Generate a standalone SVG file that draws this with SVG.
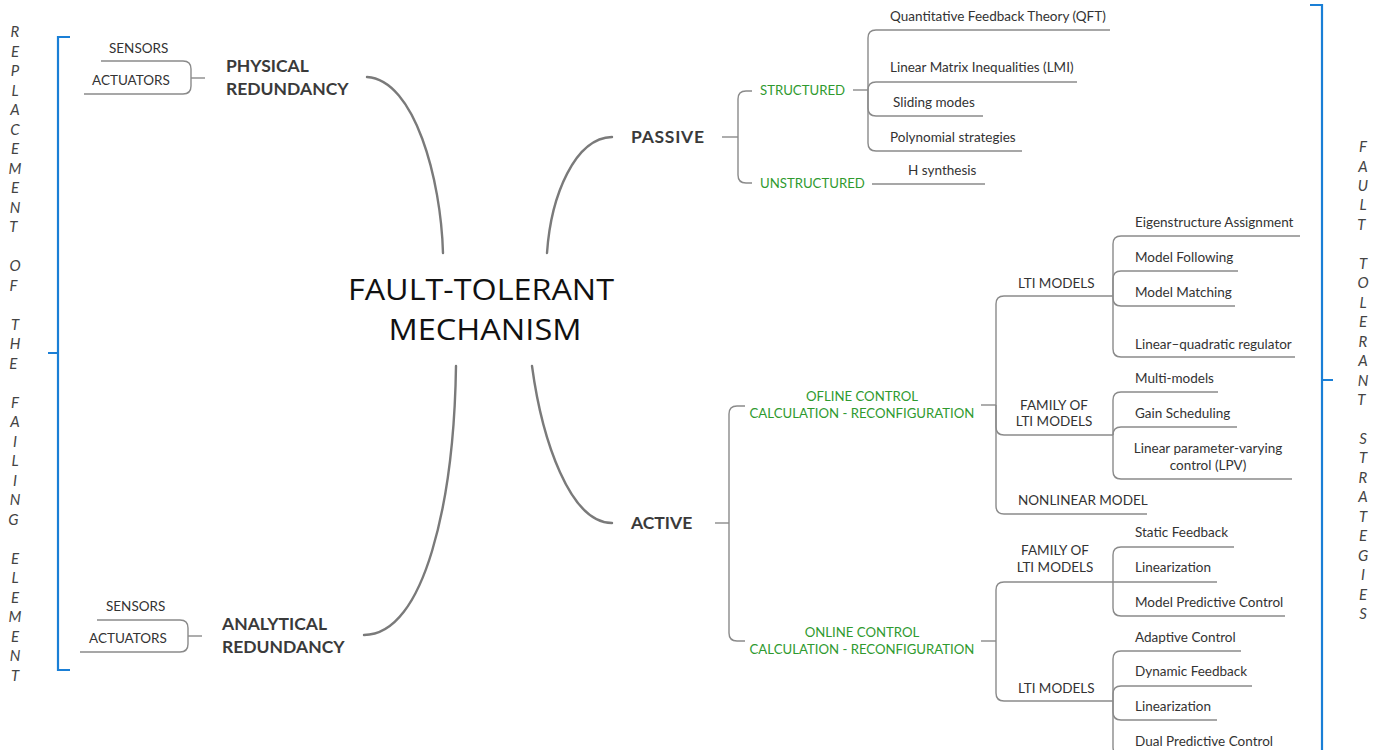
<svg xmlns="http://www.w3.org/2000/svg" width="1384" height="750" viewBox="0 0 1384 750">
  <style>
    text { font-family: "Lato", "Open Sans", "Liberation Sans", sans-serif; fill: #333; }
    .lbl { font-size: 13.5px; }
    .cap { font-size: 13.5px; }
    .grn { font-size: 13.2px; fill: #2f9a2f; }
    .head { font-size: 17.5px; font-weight: 700; fill: #3a3a3a; }
    .title { font-family: "Open Sans", "Liberation Sans", sans-serif; font-size: 30px; fill: #111; }
    .vert { font-size: 15px; font-style: italic; fill: #444; text-anchor: middle; }
    .mid { text-anchor: middle; }
    .ln { fill: none; stroke: #8a8a8a; stroke-width: 1.4; }
    .main { fill: none; stroke: #7a7a7a; stroke-width: 2.4; stroke-linecap: round; }
    .brk { fill: none; stroke: #1a7fd6; stroke-width: 2.2; }
  </style>

  <!-- side brackets -->
  <g id="bracket-left">
    <path class="brk" d="M70,37 H58 V670 H70 M58,353 H48"/>
    <text class="vert">
      <tspan x="15" y="37">R</tspan><tspan x="15" y="56.5">E</tspan><tspan x="15" y="76">P</tspan><tspan x="15" y="95.5">L</tspan><tspan x="15" y="115">A</tspan><tspan x="15" y="134.5">C</tspan><tspan x="15" y="154">E</tspan><tspan x="15" y="173.5">M</tspan><tspan x="15" y="193">E</tspan><tspan x="15" y="212.5">N</tspan><tspan x="15" y="232">T</tspan>
      <tspan x="15" y="271">O</tspan><tspan x="15" y="290.5">F</tspan>
      <tspan x="15" y="329.5">T</tspan><tspan x="15" y="349">H</tspan><tspan x="15" y="368.5">E</tspan>
      <tspan x="15" y="407.5">F</tspan><tspan x="15" y="427">A</tspan><tspan x="15" y="446.5">I</tspan><tspan x="15" y="466">L</tspan><tspan x="15" y="485.5">I</tspan><tspan x="15" y="505">N</tspan><tspan x="15" y="524.5">G</tspan>
      <tspan x="15" y="563.5">E</tspan><tspan x="15" y="583">L</tspan><tspan x="15" y="602.5">E</tspan><tspan x="15" y="622">M</tspan><tspan x="15" y="641.5">E</tspan><tspan x="15" y="661">N</tspan><tspan x="15" y="680.5">T</tspan>
    </text>
  </g>
  <g id="bracket-right">
    <path class="brk" d="M1310,5 H1322 V750 M1322,380 H1333"/>
    <text class="vert">
      <tspan x="1363" y="152">F</tspan><tspan x="1363" y="171.5">A</tspan><tspan x="1363" y="191">U</tspan><tspan x="1363" y="210.4">L</tspan><tspan x="1363" y="229.8">T</tspan>
      <tspan x="1363" y="268.8">T</tspan><tspan x="1363" y="288.2">O</tspan><tspan x="1363" y="307.7">L</tspan><tspan x="1363" y="327.1">E</tspan><tspan x="1363" y="346.6">R</tspan><tspan x="1363" y="366.1">A</tspan><tspan x="1363" y="385.5">N</tspan><tspan x="1363" y="405">T</tspan>
      <tspan x="1363" y="443.9">S</tspan><tspan x="1363" y="463.4">T</tspan><tspan x="1363" y="482.8">R</tspan><tspan x="1363" y="502.3">A</tspan><tspan x="1363" y="521.7">T</tspan><tspan x="1363" y="541.2">E</tspan><tspan x="1363" y="560.7">G</tspan><tspan x="1363" y="580.1">I</tspan><tspan x="1363" y="599.6">E</tspan><tspan x="1363" y="619">S</tspan>
    </text>
  </g>

  <!-- connectors -->
  <g id="connectors">
    <!-- central trunk curves -->
    <path class="main" d="M443,253 C441,180 415,80 367,77"/>
    <path class="main" d="M547,253 C551,195 575,138 612,137"/>
    <path class="main" d="M532,366 C542,440 570,523 612,523"/>
    <path class="main" d="M456,366 C454,500 425,635 364,635"/>

    <!-- physical redundancy -->
    <path class="ln" d="M191,78 H205"/>
    <path class="ln" d="M191,78 V69 Q191,61 183,61 H101"/>
    <path class="ln" d="M191,78 V86 Q191,94 183,94 H84"/>
    <!-- analytical redundancy -->
    <path class="ln" d="M188,636 H202"/>
    <path class="ln" d="M188,636 V628 Q188,620 180,620 H97"/>
    <path class="ln" d="M188,636 V644 Q188,652 180,652 H80"/>

    <!-- passive -->
    <path class="ln" d="M722,137 H738"/>
    <path class="ln" d="M738,137 V99 Q738,91 746,91 H752"/>
    <path class="ln" d="M738,137 V175 Q738,183 746,183 H752"/>
    <path class="ln" d="M853,90 H868"/>
    <path class="ln" d="M868,90 V38 Q868,30 876,30 H1110"/>
    <path class="ln" d="M868,90 Q868,82 876,82 H1077"/>
    <path class="ln" d="M868,90 V108 Q868,116 876,116 H983"/>
    <path class="ln" d="M868,90 V143 Q868,151 876,151 H1022"/>
    <path class="ln" d="M872,184 H985"/>

    <!-- active -->
    <path class="ln" d="M715,523 H729"/>
    <path class="ln" d="M729,523 V414 Q729,406 737,406 H745"/>
    <path class="ln" d="M729,523 V633 Q729,641 737,641 H745"/>

    <!-- offline -->
    <path class="ln" d="M981,405 H996"/>
    <path class="ln" d="M996,405 V304 Q996,296 1004,296 H1113"/>
    <path class="ln" d="M996,405 V427 Q996,435 1004,435 H1113"/>
    <path class="ln" d="M996,405 V506 Q996,514 1004,514 H1147"/>
    <path class="ln" d="M1113,296 V244 Q1113,236 1121,236 H1300"/>
    <path class="ln" d="M1113,296 V279 Q1113,271 1121,271 H1238"/>
    <path class="ln" d="M1113,296 V298 Q1113,306 1121,306 H1235"/>
    <path class="ln" d="M1113,296 V349 Q1113,357 1121,357 H1295"/>
    <path class="ln" d="M1113,435 V400 Q1113,392 1121,392 H1218"/>
    <path class="ln" d="M1113,435 Q1113,427 1121,427 H1237"/>
    <path class="ln" d="M1113,435 V471 Q1113,479 1121,479 H1292"/>

    <!-- online -->
    <path class="ln" d="M981,641 H996"/>
    <path class="ln" d="M996,641 V590 Q996,582 1004,582 H1217"/>
    <path class="ln" d="M996,641 V693 Q996,701 1004,701 H1113"/>
    <path class="ln" d="M1113,582 V555 Q1113,547 1121,547 H1234"/>
    <path class="ln" d="M1113,582 V608 Q1113,616 1121,616 H1285"/>
    <path class="ln" d="M1113,701 V659 Q1113,651 1121,651 H1241"/>
    <path class="ln" d="M1113,701 V694 Q1113,686 1121,686 H1252"/>
    <path class="ln" d="M1113,701 V712 Q1113,720 1121,720 H1217"/>
    <path class="ln" d="M1113,701 V747 Q1113,755 1121,755 H1290"/>
  </g>

  <!-- nodes -->
  <g id="center">
    <text class="title mid" x="481" y="300" textLength="266" lengthAdjust="spacingAndGlyphs">FAULT-TOLERANT</text>
    <text class="title mid" x="485" y="340" textLength="193" lengthAdjust="spacingAndGlyphs">MECHANISM</text>
  </g>

  <g id="physical">
    <text class="head" x="226" y="72">PHYSICAL</text>
    <text class="head" x="226" y="95">REDUNDANCY</text>
  </g>
  <g id="physical-sensors"><text class="cap" x="109" y="53">SENSORS</text></g>
  <g id="physical-actuators"><text class="cap" x="92" y="85">ACTUATORS</text></g>

  <g id="analytical">
    <text class="head" x="222" y="630">ANALYTICAL</text>
    <text class="head" x="222" y="653">REDUNDANCY</text>
  </g>
  <g id="analytical-sensors"><text class="cap" x="106" y="611">SENSORS</text></g>
  <g id="analytical-actuators"><text class="cap" x="89" y="643">ACTUATORS</text></g>

  <g id="passive"><text class="head" x="631" y="143" textLength="73">PASSIVE</text></g>
  <g id="structured"><text class="grn" x="760" y="95">STRUCTURED</text></g>
  <g id="unstructured"><text class="grn" x="760" y="188">UNSTRUCTURED</text></g>
  <g id="qft"><text class="lbl" x="890" y="21">Quantitative Feedback Theory (QFT)</text></g>
  <g id="lmi"><text class="lbl" x="890" y="72">Linear Matrix Inequalities (LMI)</text></g>
  <g id="sliding"><text class="lbl" x="893" y="107">Sliding modes</text></g>
  <g id="polynomial"><text class="lbl" x="890" y="142">Polynomial strategies</text></g>
  <g id="hsynth"><text class="lbl" x="908" y="175">H synthesis</text></g>

  <g id="active"><text class="head" x="631" y="529">ACTIVE</text></g>
  <g id="offline">
    <text class="grn mid" x="862" y="401">OFLINE CONTROL</text>
    <text class="grn mid" x="862" y="418">CALCULATION - RECONFIGURATION</text>
  </g>
  <g id="online">
    <text class="grn mid" x="862" y="637">ONLINE CONTROL</text>
    <text class="grn mid" x="862" y="654">CALCULATION - RECONFIGURATION</text>
  </g>

  <g id="off-lti"><text class="cap" x="1018" y="288">LTI MODELS</text></g>
  <g id="off-family">
    <text class="cap mid" x="1054" y="410">FAMILY OF</text>
    <text class="cap mid" x="1054" y="426">LTI MODELS</text>
  </g>
  <g id="off-nonlinear"><text class="cap" x="1018" y="505">NONLINEAR MODEL</text></g>

  <g id="eigen"><text class="lbl" x="1135" y="227">Eigenstructure Assignment</text></g>
  <g id="following"><text class="lbl" x="1135" y="262">Model Following</text></g>
  <g id="matching"><text class="lbl" x="1135" y="297">Model Matching</text></g>
  <g id="lqr"><text class="lbl" x="1135" y="349">Linear–quadratic regulator</text></g>
  <g id="multi"><text class="lbl" x="1135" y="383">Multi-models</text></g>
  <g id="gain"><text class="lbl" x="1135" y="418">Gain Scheduling</text></g>
  <g id="lpv">
    <text class="lbl mid" x="1208" y="453">Linear parameter-varying</text>
    <text class="lbl mid" x="1208" y="470">control (LPV)</text>
  </g>

  <g id="on-family">
    <text class="cap mid" x="1055" y="555">FAMILY OF</text>
    <text class="cap mid" x="1055" y="572">LTI MODELS</text>
  </g>
  <g id="on-lti"><text class="cap" x="1018" y="693">LTI MODELS</text></g>

  <g id="static"><text class="lbl" x="1135" y="537">Static Feedback</text></g>
  <g id="linearization-1"><text class="lbl" x="1135" y="572">Linearization</text></g>
  <g id="mpc"><text class="lbl" x="1135" y="607">Model Predictive Control</text></g>
  <g id="adaptive"><text class="lbl" x="1135" y="642">Adaptive Control</text></g>
  <g id="dynamic"><text class="lbl" x="1135" y="676">Dynamic Feedback</text></g>
  <g id="linearization-2"><text class="lbl" x="1135" y="711">Linearization</text></g>
  <g id="dual"><text class="lbl" x="1135" y="746">Dual Predictive Control</text></g>
</svg>
